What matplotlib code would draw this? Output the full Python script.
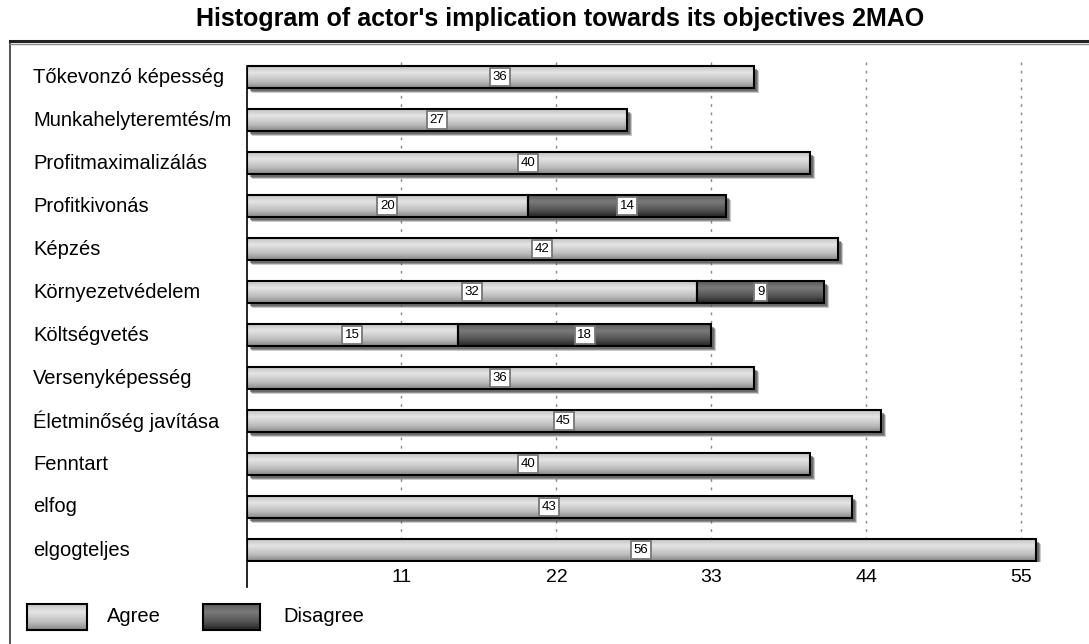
import matplotlib
matplotlib.use("Agg")
import matplotlib.pyplot as plt
import numpy as np
from matplotlib.patches import Rectangle
from matplotlib.colors import LinearSegmentedColormap
import matplotlib.transforms as mtransforms

categories = ["Tőkevonzó képesség", "Munkahelyteremtés/m", "Profitmaximalizálás",
              "Profitkivonás", "Képzés", "Környezetvédelem", "Költségvetés",
              "Versenyképesség", "Életminőség javítása", "Fenntart", "elfog", "elgogteljes"]
agree = [36, 27, 40, 20, 42, 32, 15, 36, 45, 40, 43, 56]
disagree = [0, 0, 0, 14, 0, 9, 18, 0, 0, 0, 0, 0]
xticks = [11, 22, 33, 44, 55]
title = "Histogram of actor's implication towards its objectives 2MAO"

W, H = 1089, 644
fig = plt.figure(figsize=(W / 100, H / 100), dpi=100)
fig.patch.set_facecolor("white")

fam = ["Liberation Sans Narrow", "Liberation Sans", "DejaVu Sans"]

# axes placement in pixels
ax_left, ax_right, ax_top, ax_bot = 246.5, 1089, 55, 562
ax = fig.add_axes([ax_left / W, 1 - ax_bot / H, (ax_right - ax_left) / W, (ax_bot - ax_top) / H])
ppu = 14.09
xmax = (ax_right - ax_left) / ppu
row_px = 43.0
y0_px = 77.0
ylim_top = (ax_top - y0_px) / row_px
ylim_bot = (ax_bot - y0_px) / row_px

cm_agree = LinearSegmentedColormap.from_list("ag", [(0, "#c4c4c4"), (0.3, "#e4e4e4"), (0.7, "#bdbdbd"), (1, "#888888")])
cm_dis = LinearSegmentedColormap.from_list("dg", [(0, "#5c5c5c"), (0.3, "#7a7a7a"), (0.7, "#525252"), (1, "#242424")])
grad = np.linspace(0, 1, 64).reshape(-1, 1)

bh = 0.51

# gridlines
for t in xticks:
    ax.plot([t, t], [ylim_top + 0.17, ylim_bot], color="#888888", lw=1.0, ls=(0, (2, 4)), zorder=1)

for i, (a, d) in enumerate(zip(agree, disagree)):
    total = a + d
    # shadow
    for dx, al in [(5, 0.3), (4, 0.5), (3, 0.6)]:
        tr = mtransforms.offset_copy(ax.transData, fig=fig, x=dx, y=-dx, units="dots")
        ax.add_patch(Rectangle((0, i - bh / 2), total, bh, facecolor="#555555", edgecolor="none",
                               alpha=al, transform=tr, zorder=2))
    segs = [(0, a, cm_agree, a)]
    if d > 0:
        segs.append((a, d, cm_dis, d))
    for left, w, cmap, val in segs:
        ax.imshow(grad, extent=[left, left + w, i + bh / 2, i - bh / 2], aspect="auto",
                  cmap=cmap, vmin=0, vmax=1, zorder=3, interpolation="bilinear")
        ax.add_patch(Rectangle((left, i - bh / 2), w, bh, facecolor="none", edgecolor="black",
                               lw=1.5, zorder=4))
        ax.text(left + w / 2, i, str(val), ha="center", va="center", fontsize=9.5, family=fam,
                color="black", zorder=5,
                bbox=dict(boxstyle="square,pad=0.2", facecolor="white", edgecolor="#777777", lw=1.3))

ax.set_xlim(0, xmax)
ax.set_ylim(ylim_bot, ylim_top)
for s in ax.spines.values():
    s.set_visible(False)
ax.set_yticks([])
ax.set_xticks(xticks)
ax.set_xticklabels([str(t) for t in xticks], family=fam, fontsize=14)
ax.tick_params(axis="x", length=0, pad=5)
ax.patch.set_alpha(0)

# left axis line
ax.plot([0, 0], [-bh / 2, (587 - y0_px) / row_px], color="black", lw=1.2, clip_on=False, zorder=6)

# category labels
btr = mtransforms.blended_transform_factory(fig.transFigure, ax.transData)
for i, c in enumerate(categories):
    fig.text(33 / W, i, c, transform=btr, ha="left", va="center", fontsize=14.5, family=fam)

# frame
fig.add_artist(Rectangle((10 / W, -0.1), 1.2, (H - 42) / H + 0.1, transform=fig.transFigure,
                         facecolor="none", edgecolor="#333333", lw=1.2))
fig.add_artist(plt.Line2D([10 / W, 1], [1 - 41 / H, 1 - 41 / H], transform=fig.transFigure,
                          color="#222222", lw=2.2))
fig.add_artist(plt.Line2D([10 / W, 1], [1 - 43.5 / H, 1 - 43.5 / H], transform=fig.transFigure,
                          color="#888888", lw=1.0))

# title
fig.text(560 / W, 1 - 19 / H, title, ha="center", va="center", fontsize=18, fontweight="bold", family=fam)

# legend
def legend_box(x0, x1, cmap, label, tx):
    lax = fig.add_axes([x0 / W, 1 - 630 / H, (x1 - x0) / W, 26 / H])
    lax.imshow(grad, aspect="auto", cmap=cmap, vmin=0, vmax=1, extent=[0, 1, 1, 0], interpolation="bilinear")
    lax.set_xticks([]); lax.set_yticks([])
    for s in lax.spines.values():
        s.set_linewidth(1.5)
        s.set_color("black")
    fig.text(tx / W, 1 - 617 / H, label, ha="left", va="center", fontsize=14.5, family=fam)

legend_box(27, 87, cm_agree, "Agree", 107)
legend_box(203, 260, cm_dis, "Disagree", 283)

fig.savefig("out.png", dpi=100)
